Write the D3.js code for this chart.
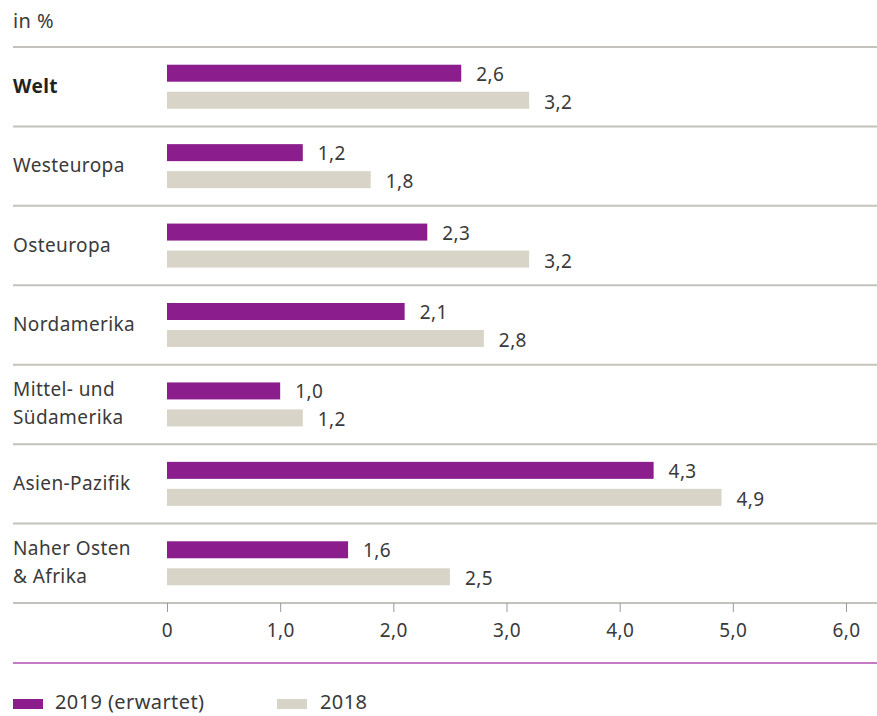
<!DOCTYPE html>
<html>
<head>
<meta charset="utf-8">
<script src="https://cdn.jsdelivr.net/npm/d3@7"></script>
<style>
  body { margin: 0; background: #fff; }
  text { font-family: "Noto Sans", "Open Sans", sans-serif; fill: #3a3a3a; letter-spacing: 0.4px; }
</style>
</head>
<body>
<div class="container"></div>
<script>
const wd = 877, ht = 716

const regions = [["Welt"], ["Westeuropa"], ["Osteuropa"], ["Nordamerika"],
  ["Mittel- und", "Südamerika"], ["Asien-Pazifik"], ["Naher Osten", "& Afrika"]]
const vals2019 = [2.6, 1.2, 2.3, 2.1, 1.0, 4.3, 1.6]
const vals2018 = [3.2, 1.8, 3.2, 2.8, 1.2, 4.9, 2.5]
const ticks = [0, 1, 2, 3, 4, 5, 6]
const seriesNames = ["2019 (erwartet)", "2018"]

const purple = "#8c1d8c", beige = "#d8d4c8", rule = "#c4c2ba"
const fs = "19px"
const fmt = v => d3.format(".1f")(v).replace(".", ",")

const svg = d3.select(".container").append("svg")
  .attr("width", wd).attr("height", ht)

const x = d3.scaleLinear().domain([0, 6]).range([167, 846])
const y = d3.scaleBand().domain(d3.range(regions.length)).range([47, 603])

svg.append("text").attr("x", 13).attr("y", 28)
  .style("font-size", "20px").text("in %")

// separator lines
svg.selectAll(".sep")
  .data(d3.range(regions.length + 1))
  .enter().append("line")
  .attr("x1", 13).attr("x2", 877)
  .attr("y1", i => i < regions.length ? y(i) : y.range()[1])
  .attr("y2", i => i < regions.length ? y(i) : y.range()[1])
  .style("stroke", rule).style("stroke-width", 2)

const rows = svg.selectAll(".row")
  .data(regions)
  .enter().append("g")
  .attr("transform", (d, i) => "translate(0," + (y(i) + y.bandwidth() / 2) + ")")

rows.append("text")
  .attr("x", 13)
  .style("font-size", fs)
  .style("font-weight", (d, i) => i == 0 ? "bold" : "normal")
  .style("fill", (d, i) => i == 0 ? "#222" : "#3a3a3a")
  .each(function(d) {
    const t = d3.select(this)
    d.forEach((line, j) => {
      t.append("tspan").attr("x", 13)
        .attr("y", d.length == 1 ? 6 : (j == 0 ? -8 : 20))
        .text(line)
    })
  })

rows.append("rect")
  .attr("x", x(0)).attr("y", -22).attr("height", 17)
  .attr("width", (d, i) => x(vals2019[i]) - x(0))
  .style("fill", purple)

rows.append("rect")
  .attr("x", x(0)).attr("y", 5).attr("height", 17)
  .attr("width", (d, i) => x(vals2018[i]) - x(0))
  .style("fill", beige)

rows.append("text")
  .attr("x", (d, i) => x(vals2019[i]) + 15).attr("y", -6)
  .style("font-size", fs)
  .text((d, i) => fmt(vals2019[i]))

rows.append("text")
  .attr("x", (d, i) => x(vals2018[i]) + 15).attr("y", 22)
  .style("font-size", fs)
  .text((d, i) => fmt(vals2018[i]))

// axis
const axis = svg.append("g")
  .attr("transform", "translate(0,603)")
  .call(d3.axisBottom(x).tickValues(ticks).tickSize(9).tickPadding(12)
    .tickFormat(v => v == 0 ? "0" : fmt(v)))
axis.select(".domain").remove()
axis.selectAll("line").style("stroke", "#999").style("stroke-width", 1)
axis.selectAll("text").style("font-size", fs).style("fill", "#3a3a3a")
  .style("font-family", "'Noto Sans', sans-serif")

svg.append("line")
  .attr("x1", 13).attr("x2", 877).attr("y1", 663).attr("y2", 663)
  .style("stroke", "#c47ac4").style("stroke-width", 2)

// legend
const leg = svg.selectAll(".leg")
  .data(seriesNames)
  .enter().append("g")
  .attr("transform", (d, i) => "translate(" + (i == 0 ? 13 : 277) + ",0)")
leg.append("rect").attr("x", 0).attr("y", 699).attr("width", 30).attr("height", 10)
  .style("fill", (d, i) => i == 0 ? purple : beige)
leg.append("text").attr("x", (d, i) => i == 0 ? 42 : 43).attr("y", 709)
  .style("font-size", "20px").text(d => d)
</script>
</body>
</html>
